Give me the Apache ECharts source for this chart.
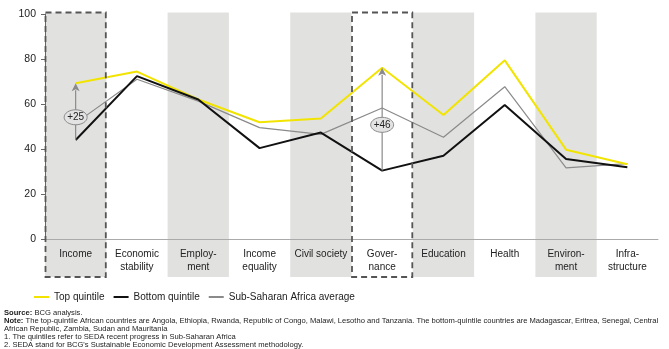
<!DOCTYPE html>
<html><head><meta charset="utf-8">
<script src="https://cdn.jsdelivr.net/npm/echarts@6/dist/echarts.min.js"></script>
<style>html,body{margin:0;padding:0;background:#fff}#c{width:669px;height:349px}</style>
</head><body><div id="c"></div>
<script>
const categories = ['Income','Economic\nstability','Employ-\nment','Income\nequality','Civil society','Gover-\nnance','Education','Health','Environ-\nment','Infra-\nstructure'];
const topQuintile = [69.2, 74.4, 62.0, 51.9, 53.6, 76.1, 55.1, 79.4, 39.7, 33.2];
const bottomQuintile = [44.0, 72.4, 62.0, 40.4, 47.3, 30.4, 37.0, 59.6, 35.6, 31.9];
const ssaAverage = [51.5, 71.0, 61.3, 49.5, 46.5, 58.2, 45.2, 67.7, 31.6, 33.5];
const shadedCategories = ['Income','Employ-\nment','Civil society','Education','Environ-\nment'];
const boxedCategories = ['Income','Gover-\nnance'];
const annotationLabels = ['+25','+46'];
const yTicks = [0,20,40,60,80,100];

const SANS = '"Liberation Sans",Arial,sans-serif';
const GRID = {left:45, right:11, top:14, bottom:110};
const chart = echarts.init(document.getElementById('c'));

const bandData = shadedCategories.map(c => [categories.indexOf(c), 0]);
const boxData = boxedCategories.map(c => [categories.indexOf(c), 0]);
const annData = boxedCategories.map((c,i) => {
  const k = categories.indexOf(c);
  return [k, bottomQuintile[k], topQuintile[k], i];
});

function colRect(api){
  const p = api.coord([api.value(0), 100]);
  const w = api.size([1,0])[0];
  const top = p[1] - 1.5;
  const bottom = 349 - GRID.bottom + 38;
  return {x: p[0]-w/2, y: top, width: w, height: bottom-top};
}

chart.setOption({
  animation:false,
  grid: GRID,
  legend: {
    left: 29, top: 287, itemWidth: 15, itemHeight: 2, itemGap: 9, icon: 'rect',
    textStyle: {fontFamily: SANS, fontSize: 10, color: '#222'},
    data: ['Top quintile','Bottom quintile','Sub-Saharan Africa average']
  },
  xAxis: {
    type:'category', data: categories, boundaryGap: true,
    axisLine:{show:true, lineStyle:{color:'#aaa', width:1}},
    axisTick:{show:false},
    axisLabel:{fontFamily: SANS, fontSize:10, color:'#222', lineHeight:13, margin:9, interval:0, verticalAlign:'top'}
  },
  yAxis: {
    type:'value', min:0, max:100, interval:20,
    axisLine:{show:true, lineStyle:{color:'#666'}},
    axisTick:{show:true, length:4, lineStyle:{color:'#666'}},
    splitLine:{show:false},
    axisLabel:{fontFamily: SANS, fontSize:10.5, color:'#222', margin:9}
  },
  series: [
    {type:'custom', name:'bands', z:-1, silent:true, clip:false, data: bandData,
     renderItem: (params, api) => ({type:'rect', shape: colRect(api), style:{fill:'#e1e2e0'}})},
    {type:'custom', name:'boxes', z:5, silent:true, clip:false, data: boxData,
     renderItem: (params, api) => {
       const r = colRect(api);
       return {type:'rect', shape:{x:r.x+0.5, y:r.y, width:r.width-1, height:r.height},
               style:{fill:null, stroke:'#555', lineWidth:1.8, lineDash:[6,4]}};
     }},
    {type:'line', name:'Sub-Saharan Africa average', data: ssaAverage, symbol:'none', z:3,
     lineStyle:{color:'#8a8a8a', width:1.2}, itemStyle:{color:'#8a8a8a'}},
    {type:'line', name:'Top quintile', data: topQuintile, symbol:'none', z:4,
     lineStyle:{color:'#f2e400', width:2}, itemStyle:{color:'#f2e400'}},
    {type:'line', name:'Bottom quintile', data: bottomQuintile, symbol:'none', z:4,
     lineStyle:{color:'#111', width:2}, itemStyle:{color:'#111'}},
    {type:'custom', name:'ann', z:10, silent:true, clip:false, data: annData,
     renderItem: (params, api) => {
       const k = api.value(0);
       const lo = api.value(1), hi = api.value(2);
       const pb = api.coord([k, lo]);
       const pt = api.coord([k, hi]);
       const pm = api.coord([k, (lo+hi)/2 - 2.5]);
       const lbl = annotationLabels[api.value(3)];
       return {type:'group', children:[
         {type:'line', shape:{x1:pb[0], y1:pb[1], x2:pt[0], y2:pt[1]+7}, style:{stroke:'#8a8a8a', lineWidth:1.2}},
         {type:'polygon', shape:{points:[[pt[0], pt[1]], [pt[0]-4, pt[1]+8], [pt[0], pt[1]+6], [pt[0]+4, pt[1]+8]]}, style:{fill:'#8a8a8a'}},
         {type:'ellipse', shape:{cx:pm[0], cy:pm[1], rx:11.5, ry:7.5}, style:{fill:'#e3e3e3', stroke:'#8a8a8a', lineWidth:1}},
         {type:'text', x:pm[0], y:pm[1], style:{text:lbl, fontFamily:SANS, fontSize:10, fill:'#222', align:'center', verticalAlign:'middle'}}
       ]};
     }}
  ],
  graphic: [
    {type:'text', left:4, top:308.5, style:{
      text:'{b|Source:} BCG analysis.\n{b|Note:} The top-quintile African countries are Angola, Ethiopia, Rwanda, Republic of Congo, Malawi, Lesotho and Tanzania. The bottom-quintile countries are Madagascar, Eritrea, Senegal, Central\nAfrican Republic, Zambia, Sudan and Mauritania\n1. The quintiles refer to SEDA recent progress in Sub-Saharan Africa\n2. SEDA stand for BCG\'s Sustainable Economic Development Assessment methodology.',
      fontFamily:SANS, fontSize:7.6, lineHeight:8.2, fill:'#222',
      rich:{b:{fontWeight:'bold', fontFamily:SANS, fontSize:7.6, fill:'#222'}}
    }}
  ]
});
</script>
</body></html>
